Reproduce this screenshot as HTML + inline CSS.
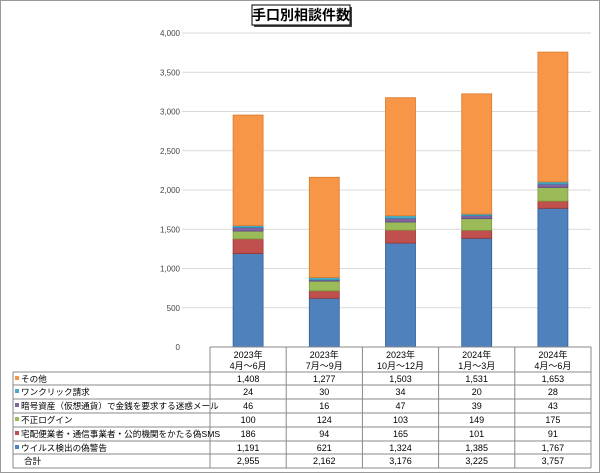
<!DOCTYPE html>
<html><head><meta charset="utf-8"><style>
body{margin:0;background:#fff;font-family:"Liberation Sans","Noto Sans CJK JP",sans-serif;}
#frame{position:absolute;left:0;top:0;width:598px;height:471px;border:1px solid #999;}
</style></head><body>
<div id="frame"></div>
<svg id="c" width="600" height="473" style="position:absolute;left:0;top:0"></svg>
<script>
const categories=[["2023年","4月～6月"],["2023年","7月～9月"],["2023年","10月～12月"],["2024年","1月～3月"],["2024年","4月～6月"]];
const seriesNames=["ウイルス検出の偽警告","宅配便業者・通信事業者・公的機関をかたる偽SMS","不正ログイン","暗号資産（仮想通貨）で金銭を要求する迷惑メール","ワンクリック請求","その他"];
const virus=[1191,621,1324,1385,1767];
const sms=[186,94,165,101,91];
const login=[100,124,103,149,175];
const crypto=[46,16,47,39,43];
const oneclick=[24,30,34,20,28];
const other=[1408,1277,1503,1531,1653];
const totals=[2955,2162,3176,3225,3757];
const yTicks=[0,500,1000,1500,2000,2500,3000,3500,4000];
const colors=["#4f81bd","#c0504d","#9bbb59","#8064a2","#4bacc6","#f79646"];
const edges=["#2f5f9e","#9c3330","#7c9a3e","#5f4882","#2f8ea8","#d87a30"];
const series=[virus,sms,login,crypto,oneclick,other];
const svg=document.getElementById('c');const NS="http://www.w3.org/2000/svg";
function el(t,a,txt){const e=document.createElementNS(NS,t);for(const k in a)e.setAttribute(k,a[k]);if(txt!==undefined)e.textContent=txt;svg.appendChild(e);return e;}
const x0=210,x1=591,yb=347,yt=33,yMax=4000;
const colW=(x1-x0)/categories.length;
const y=v=>yb-(v/yMax)*(yb-yt);
const xc=i=>x0+colW*(i+0.5);
yTicks.forEach(t=>{
 if(t>0){const g=el('line',{x1:x0-28,x2:x1,y1:y(t),y2:y(t),stroke:'#d9d9d9','stroke-width':1});
 
 }
 const l=el('text',{x:x0-30,y:y(t)+3,'text-anchor':'end','font-size':8,fill:'#444'},t.toLocaleString('en-US'));
 
 
});
categories.forEach((c,i)=>{
 let acc=0;
 series.forEach((s,j)=>{
  const r=el('rect',{x:xc(i)-15,width:30,y:y(acc+s[i]),height:y(acc)-y(acc+s[i]),fill:colors[j],stroke:edges[j],'stroke-width':0.8});
  
  
  acc+=s[i];
 });
});
const rowY=[372,385,399,413,427,441,454,468];
const tx0=13;
el('line',{x1:x0,x2:x1,y1:yb,y2:yb,stroke:'#888'});
for(let k=0;k<rowY.length;k++)el('line',{x1:tx0,x2:x1,y1:rowY[k],y2:rowY[k],stroke:'#888'});
el('line',{x1:tx0,x2:tx0,y1:rowY[0],y2:rowY[7],stroke:'#888'});
for(let i=0;i<=categories.length;i++)el('line',{x1:x0+colW*i,x2:x0+colW*i,y1:yb,y2:rowY[7],stroke:'#888'});
categories.forEach((c,i)=>{
 const a=el('text',{x:xc(i),y:358,'text-anchor':'middle','font-size':9,fill:'#000'},c[0]);
 
 
 el('text',{x:xc(i),y:369,'text-anchor':'middle','font-size':9,fill:'#000'},c[1]);
});
const order=[5,4,3,2,1,0];
order.forEach((j,r)=>{
 const yy=rowY[r]+10;
 const m=el('rect',{x:15,y:yy-6,width:4,height:4,fill:colors[j]});
 
 
 const t=el('text',{x:21,y:yy,'font-size':8.6,fill:'#000'},seriesNames[j]);
 
 
 series[j].forEach((v,i)=>{
  const n=el('text',{x:xc(i),y:yy,'text-anchor':'middle','font-size':9,fill:'#000'},v.toLocaleString('en-US'));
  
  
 });
});
el('text',{x:24,y:rowY[6]+10,'font-size':8.6,fill:'#000'},'合計');
totals.forEach((v,i)=>{
 const n=el('text',{x:xc(i),y:rowY[6]+10,'text-anchor':'middle','font-size':9,fill:'#000'},v.toLocaleString('en-US'));
 
 
});
el('rect',{x:254,y:7,width:98,height:20,fill:'#444'});
const tb=el('rect',{x:252,y:5,width:98,height:20,fill:'#fff',stroke:'#000','stroke-width':1});


const tt=el('text',{x:301,y:20,'text-anchor':'middle','font-size':14,'font-weight':'bold',fill:'#000'},'手口別相談件数');


</script>
</body></html>
